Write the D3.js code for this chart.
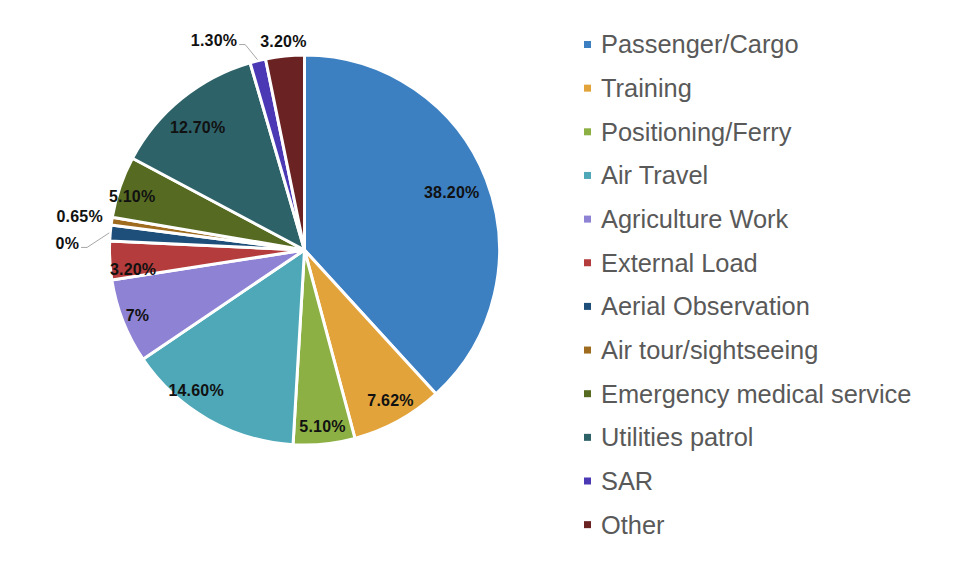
<!DOCTYPE html>
<html>
<head>
<meta charset="utf-8">
<script src="https://cdn.jsdelivr.net/npm/d3@7"></script>
<style>
  body { margin: 0; background: #fff; }
  svg { display: block; font-family: "Liberation Sans", Arial, sans-serif; }
</style>
</head>
<body>
<svg id="chart" width="962" height="569"></svg>
<script>
const categories = ['Passenger/Cargo', 'Training', 'Positioning/Ferry', 'Air Travel', 'Agriculture Work',
  'External Load', 'Aerial Observation', 'Air tour/sightseeing', 'Emergency medical service',
  'Utilities patrol', 'SAR', 'Other']
const values = [38.2, 7.62, 5.1, 14.6, 7, 3.2, 1.3, 0.65, 5.1, 12.7, 1.3, 3.2]
const valueLabels = ['38.20%', '7.62%', '5.10%', '14.60%', '7%', '3.20%', '1.30%', '0.65%', '5.10%', '12.70%', '1.30%', '3.20%']
const colors = ['#3c80c2', '#e2a33b', '#8db045', '#4ea8b8', '#8e82d4', '#b53c3c',
  '#1e4f7a', '#9e6b1f', '#566b21', '#2e6269', '#4b38b5', '#6b2222']

// label placement: radius factor, angle shift (deg), leader line
const labelPlace = {
  'Passenger/Cargo': [0.81, 0],
  'Training': [0.89, -1],
  'Positioning/Ferry': [0.91, 0],
  'Air Travel': [0.91, 8],
  'Agriculture Work': [0.92, 0],
  'External Load': [0.885, -3.5],
  'Aerial Observation': [1.2755, -3.5, true],
  'Air tour/sightseeing': [1.166, 0],
  'Emergency medical service': [0.925, -1.7],
  'Utilities patrol': [0.834, -2],
  'SAR': [1.17, -9.5, true],
  'Other': [1.077, 0]
}

const data = categories.map((c, i) => ({ name: c, value: values[i], label: valueLabels[i], color: colors[i] }))

const svg = d3.select('#chart')
const cx = 304.5, cy = 250, radius = 195

// the plot area cuts off at the left, as in the original
svg.append('defs').append('clipPath').attr('id', 'plotclip')
  .append('rect').attr('x', 55).attr('y', 0).attr('width', 500).attr('height', 569)

const g = svg.append('g').attr('clip-path', 'url(#plotclip)')
  .append('g').attr('transform', 'translate(' + cx + ',' + cy + ')')

const pie = d3.pie().sort(null).value(d => d.value)
const arc = d3.arc().innerRadius(0).outerRadius(radius)
const arcs = pie(data)

g.selectAll('path.slice')
  .data(arcs)
  .join('path')
  .attr('class', 'slice')
  .attr('d', arc)
  .attr('fill', d => d.data.color)
  .attr('stroke', '#fff')
  .attr('stroke-width', 3)
  .attr('stroke-linejoin', 'round')

function polar(a, r) {
  return [r * Math.sin(a), -r * Math.cos(a)]
}

arcs.forEach(d => {
  const p = labelPlace[d.data.name]
  const mid = (d.startAngle + d.endAngle) / 2
  const a = mid + p[1] * Math.PI / 180
  const [x, y] = polar(a, p[0] * radius)

  const t = g.append('text')
    .attr('x', x)
    .attr('y', y)
    .attr('dy', '0.35em')
    .attr('text-anchor', 'middle')
    .attr('font-size', 16)
    .attr('font-weight', 'bold')
    .attr('fill', '#111')
    .attr('letter-spacing', 0.2)
    .text(d.data.label)

  if (p[2]) {
    const w = t.node().getComputedTextLength()
    const side = x < 0 ? 1 : -1 // leader runs toward the pie
    const edgeX = x + side * (w / 2 + 2)
    const elbow = [edgeX + side * 6, y + 4]
    const start = polar(mid, radius + 1)
    g.append('path')
      .attr('d', d3.line()([start, elbow, [edgeX, y + 4]]))
      .attr('fill', 'none')
      .attr('stroke', '#a6a6a6')
      .attr('stroke-width', 1)
  }
})

// legend
const legend = svg.append('g').attr('transform', 'translate(584,44.5)')
const rowH = 43.65
const item = legend.selectAll('g.item')
  .data(data)
  .join('g')
  .attr('class', 'item')
  .attr('transform', (d, i) => 'translate(0,' + i * rowH + ')')

item.append('rect')
  .attr('x', 0)
  .attr('y', -3.5)
  .attr('width', 7)
  .attr('height', 7)
  .attr('fill', d => d.color)

item.append('text')
  .attr('x', 17)
  .attr('y', 0)
  .attr('dy', '0.35em')
  .attr('font-size', 25.4)
  .attr('fill', '#595959')
  .text(d => d.name)
</script>
</body>
</html>
